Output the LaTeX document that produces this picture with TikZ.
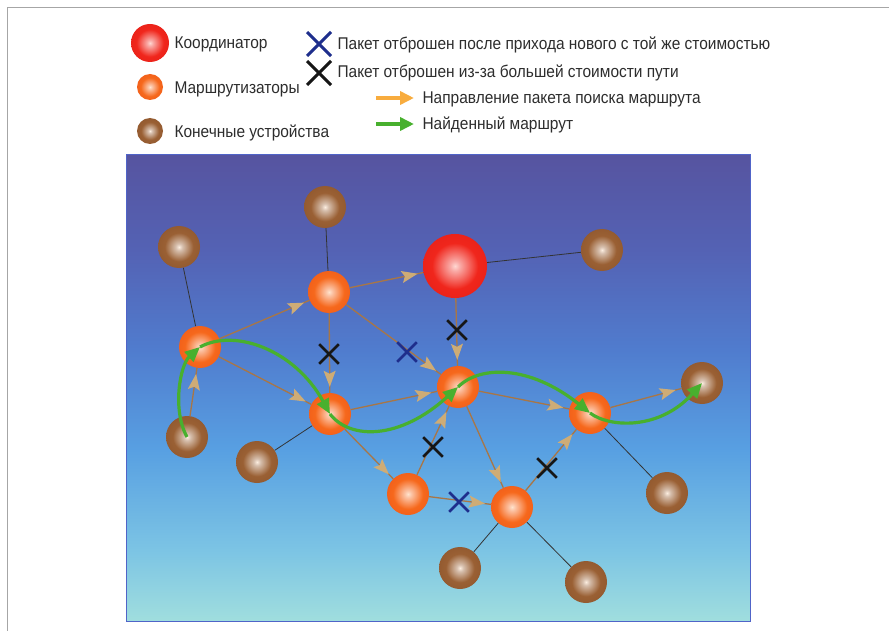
\documentclass[tikz,border=0pt]{standalone}
\usepackage{fontspec}
\setmainfont{Liberation Sans}[FakeStretch=0.91]
\usetikzlibrary{arrows.meta,shapes.misc,decorations.markings,backgrounds}

\definecolor{coordbase}{RGB}{240,38,28}
\definecolor{coordhi}{RGB}{255,215,210}
\definecolor{coordedge}{RGB}{218,24,18}
\definecolor{routerbase}{RGB}{246,104,28}
\definecolor{routerhi}{RGB}{255,228,205}
\definecolor{routeredge}{RGB}{232,74,22}
\definecolor{endbase}{RGB}{154,96,52}
\definecolor{endhi}{RGB}{252,238,224}
\definecolor{endedge}{RGB}{128,74,36}
\definecolor{reqline}{RGB}{168,118,70}
\definecolor{reqhead}{RGB}{206,172,118}
\definecolor{routegreen}{RGB}{72,176,46}
\definecolor{keyorange}{RGB}{248,172,62}
\definecolor{xblue}{RGB}{30,46,140}
\definecolor{xblack}{RGB}{22,22,22}
\definecolor{txt}{RGB}{45,45,45}
\definecolor{panelA}{RGB}{86,84,160}
\definecolor{panelB}{RGB}{84,98,180}
\definecolor{panelC}{RGB}{80,124,206}
\definecolor{panelD}{RGB}{88,160,226}
\definecolor{panelE}{RGB}{124,196,228}
\definecolor{panelF}{RGB}{160,222,222}
\definecolor{panelEdge}{RGB}{80,100,200}

% glossy spheres: small light spot in the middle, darker rim
\pgfdeclareradialshading{coordball}{\pgfpoint{0bp}{0bp}}{color(0bp)=(coordhi); color(4bp)=(coordbase!40!white); color(18bp)=(coordbase); color(50bp)=(coordedge)}
\pgfdeclareradialshading{routerball}{\pgfpoint{0bp}{0bp}}{color(0bp)=(routerhi); color(4bp)=(routerbase!40!white); color(18bp)=(routerbase); color(50bp)=(routeredge)}
\pgfdeclareradialshading{endball}{\pgfpoint{0bp}{0bp}}{color(0bp)=(endhi); color(4bp)=(endbase!40!white); color(17bp)=(endbase); color(50bp)=(endedge)}
% sky behind the network, dark violet on top to pale teal below
\pgfdeclareverticalshading{skyfade}{100bp}{color(0bp)=(panelF); color(25bp)=(panelF); color(32.6bp)=(panelE); color(43.3bp)=(panelD); color(54.1bp)=(panelC); color(64.8bp)=(panelB); color(75bp)=(panelA); color(100bp)=(panelA)}

\begin{document}
\begin{tikzpicture}[x=1pt,y=-1pt,
  ball/.style={circle,inner sep=0pt,minimum size=42pt,shade},
  coord/.style={ball,shading=coordball,minimum size=64pt},
  router/.style={ball,shading=routerball},
  enddev/.style={ball,shading=endball},
  link/.style={draw=black!80,line width=0.8pt},
  req/.style={draw=reqline,line width=1.3pt,postaction={decorate},
    decoration={markings,mark=at position -6pt with {\arrow{Stealth[length=16pt,width=12pt,inset=3pt,color=reqhead]}}}},
  route/.style={draw=routegreen,line width=3.2pt,-{Triangle[length=15pt,width=13pt]}},
  dropx/.style={cross out,draw,line width=2.6pt,minimum size=17pt,inner sep=0pt},
  lab/.style={anchor=base west,text=txt,font=\fontsize{17}{20}\selectfont}]
\useasboundingbox (0,0) rectangle (889,631);
\draw[gray!70,line width=0.8pt] (7,631) -- (7,7) -- (889,7);

% legend
\node[coord,minimum size=38pt] (kC) at (150,43) {};
\node[router,minimum size=26pt] (kR) at (150,87) {};
\node[enddev,minimum size=26pt] (kE) at (150,131) {};
\node[lab] (tCoord) at (171,49) {Координатор};
\node[lab] (tRouter) at (171,94) {Маршрутизаторы};
\node[lab] (tEnd) at (171,138) {Конечные устройства};
\node[dropx,draw=xblue,minimum size=21pt,line width=3pt] (kX1) at (319,44) {};
\node[dropx,draw=xblack,minimum size=21pt,line width=3pt] (kX2) at (319,73) {};
\node[lab] (tLost1) at (334,50) {Пакет отброшен после прихода нового с той же стоимостью};
\node[lab] (tLost2) at (334,78) {Пакет отброшен из-за большей стоимости пути};
\coordinate (ka1) at (376,98); \coordinate (ka2) at (414,98);
\coordinate (kg1) at (376,124); \coordinate (kg2) at (414,124);
\draw[keyorange,line width=4pt,-{Triangle[length=14pt,width=13pt]}] (ka1) -- (ka2);
\draw[routegreen,line width=4pt,-{Triangle[length=14pt,width=13pt]}] (kg1) -- (kg2);
\node[lab] (tReq) at (419,104) {Направление пакета поиска маршрута};
\node[lab] (tRoute) at (419,130) {Найденный маршрут};

% network
\node[coord] (C) at (455,266) {};
\node[router] (R1) at (200,347) {};
\node[router] (R2) at (329,292) {};
\node[router] (R3) at (458,387) {};
\node[router] (R4) at (330,414) {};
\node[router] (R5) at (408,494) {};
\node[router] (R6) at (512,507) {};
\node[router] (R7) at (590,413) {};
\node[enddev] (E1) at (179,247) {};
\node[enddev] (E2) at (325,207) {};
\node[enddev] (E3) at (602,250) {};
\node[enddev] (E4) at (187,437) {};
\node[enddev] (E5) at (257,462) {};
\node[enddev] (E6) at (702,383) {};
\node[enddev] (E7) at (667,493) {};
\node[enddev] (E8) at (460,568) {};
\node[enddev] (E9) at (586,582) {};

\begin{scope}[on background layer]
\shade[shading=skyfade] (126,155) rectangle (750,621);
\draw[panelEdge,line width=1pt] (126,155) rectangle (750,621);
\foreach \a/\b in {E1/R1,E2/R2,C/E3,E5/R4,E7/R7,E8/R6,E9/R6}
  \draw[link] (\a) -- (\b);
\foreach \a/\b in {E4/R1,R1/R2,R1/R4,R2/C,R2/R4,R2/R3,C/R3,R4/R3,R5/R3,R4/R5,R3/R6,R5/R6,R6/R7,R3/R7,R7/E6}
  \draw[req] (\a) -- (\b);
\end{scope}

% dropped packets
\node[dropx,draw=xblack] (x1) at (329,354) {};
\node[dropx,draw=xblue] (x2) at (407,352) {};
\node[dropx,draw=xblack] (x3) at (457,330) {};
\node[dropx,draw=xblack] (x4) at (433,447) {};
\node[dropx,draw=xblue] (x5) at (459,502) {};
\node[dropx,draw=xblack] (x6) at (547,468) {};

% found route
\draw[route] (E4.center) .. controls (172,410) and (180,365) .. (R1.center);
\draw[route] (R1.center) .. controls (235,328) and (295,350) .. (R4.center);
\draw[route] (R4.center) .. controls (350,440) and (400,440) .. (R3.center);
\draw[route] (R3.center) .. controls (480,365) and (530,365) .. (R7.center);
\draw[route] (R7.center) .. controls (610,428) and (660,430) .. (E6.center);
\end{tikzpicture}
\end{document}
